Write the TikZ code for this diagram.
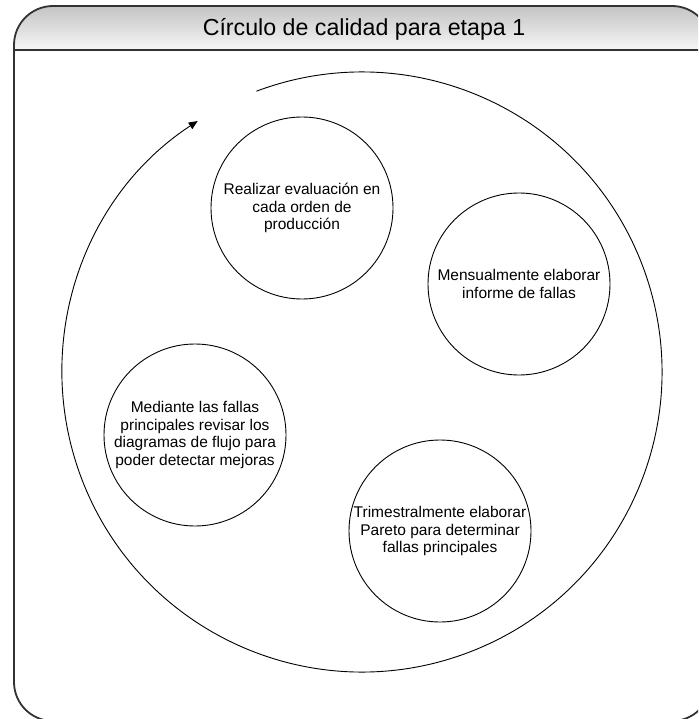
\documentclass[tikz,border=0pt]{standalone}
\usepackage{fontspec}
\setmainfont{Liberation Sans}
\usetikzlibrary{arrows.meta,calc}
\definecolor{framegray}{RGB}{50,50,50}
\definecolor{headtop}{RGB}{196,196,196}
\definecolor{headbottom}{RGB}{246,246,246}
\begin{document}
\begin{tikzpicture}[x=1pt,y=-1pt,
  framestroke/.style={draw=framegray, line width=1.8pt},
  stage/.style={circle, draw=black, line width=0.9pt, minimum size=182pt,
    inner sep=0pt, align=center, font=\fontsize{15.5}{17.8}\selectfont},
  ringarrow/.style={draw=black, line width=0.9pt,
    -{Triangle[length=9pt,width=7.5pt]}},
  heading/.style={font=\fontsize{23.2}{27}\selectfont},
]
\useasboundingbox (0,0) rectangle (698,719);
\fill[white] (0,0) rectangle (698,719);

% outer panel with shaded title bar
\begin{scope}
  \clip (0,0) rectangle (698,719);
  \begin{scope}
    \clip[rounded corners=39pt] (14,6) rectangle (711,721);
    \shade[top color=headtop, bottom color=headbottom] (14,6) rectangle (711,50);
  \end{scope}
  \draw[framestroke, rounded corners=39pt] (14,6) rectangle (711,721);
  \coordinate (barL) at (14,50);
  \coordinate (barR) at (711,50);
  \draw[framestroke] (barL) -- (barR);
\end{scope}

\node[heading] (title) at (364,29) {Círculo de calidad para etapa 1};

% cycle ring
\coordinate (ring) at (362,372);
\draw[ringarrow] ($(ring)+(-110.6:300)$) arc[start angle=-110.6, end angle=236.8, radius=300];

% stages
\node[stage] (s1) at (302,208) {Realizar evaluación en\\cada orden de\\producción};
\node[stage] (s2) at (519,284) {Mensualmente elaborar\\informe de fallas};
\node[stage] (s3) at (195,435) {Mediante las fallas\\principales revisar los\\diagramas de flujo para\\poder detectar mejoras};
\node[stage] (s4) at (440,531) {Trimestralmente elaborar\\Pareto para determinar\\fallas principales};
\end{tikzpicture}
\end{document}
